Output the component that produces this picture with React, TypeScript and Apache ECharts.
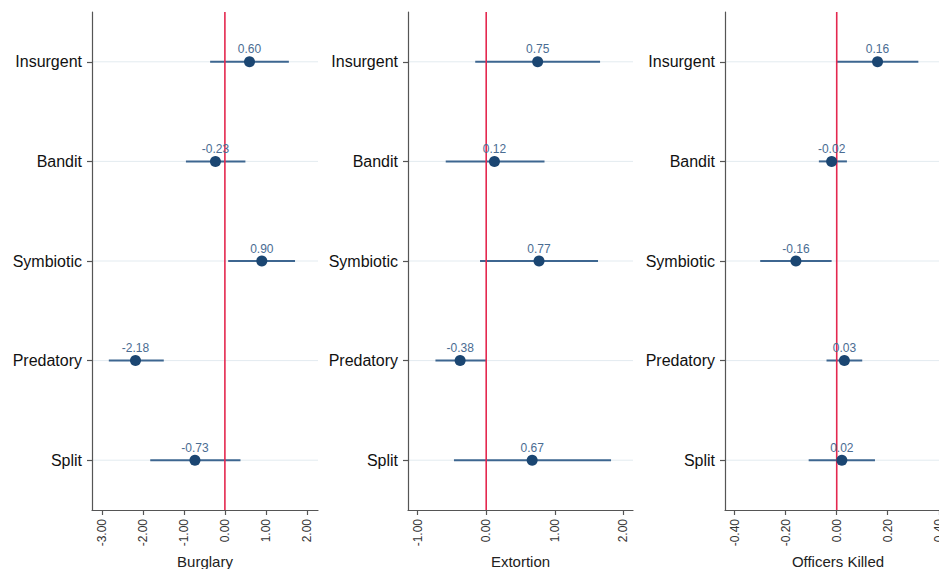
import React, { useEffect, useRef } from 'react';
import * as echarts from 'echarts';

const categories = ['Insurgent', 'Bandit', 'Symbiotic', 'Predatory', 'Split'];

const burglaryEst = [0.6, -0.23, 0.9, -2.18, -0.73];
const burglaryLo = [-0.36, -0.95, 0.08, -2.83, -1.82];
const burglaryHi = [1.56, 0.5, 1.71, -1.49, 0.38];

const extortionEst = [0.75, 0.12, 0.77, -0.38, 0.67];
const extortionLo = [-0.16, -0.59, -0.09, -0.74, -0.47];
const extortionHi = [1.66, 0.85, 1.63, 0.0, 1.82];

const officersEst = [0.16, -0.02, -0.16, 0.03, 0.02];
const officersLo = [0.0, -0.07, -0.3, -0.04, -0.11];
const officersHi = [0.32, 0.04, -0.02, 0.1, 0.15];

const burglaryTicks = [-3, -2, -1, 0, 1, 2];
const extortionTicks = [-1, 0, 1, 2];
const officersTicks = [-0.4, -0.2, 0, 0.2, 0.4];

const panelNames = ['Burglary', 'Extortion', 'Officers Killed'];
const referenceValue = 0;

const panels = [
  { est: burglaryEst, lo: burglaryLo, hi: burglaryHi, ticks: burglaryTicks, min: -3.24, max: 2.27, left: 92, width: 226 },
  { est: extortionEst, lo: extortionLo, hi: extortionHi, ticks: extortionTicks, min: -1.14, max: 2.14, left: 408, width: 225 },
  { est: officersEst, lo: officersLo, hi: officersHi, ticks: officersTicks, min: -0.438, max: 0.448, left: 725, width: 226 },
];

const FONT = 'Liberation Sans, Arial, Helvetica, sans-serif';

export default function App() {
  const ref = useRef<HTMLDivElement>(null);
  useEffect(() => {
    if (!ref.current) return;
    const chart = echarts.init(ref.current, undefined, { renderer: 'svg' });
    const grid: any[] = [];
    const xAxis: any[] = [];
    const yAxis: any[] = [];
    const series: any[] = [];
    panels.forEach((p, i) => {
      grid.push({ left: p.left, top: 12, width: p.width, height: 498, containLabel: false, outerBoundsMode: 'none' });
      xAxis.push({
        type: 'value',
        gridIndex: i,
        min: p.min,
        max: p.max,
        name: panelNames[i],
        nameLocation: 'middle',
        nameGap: 41,
        nameTextStyle: { fontFamily: FONT, fontSize: 15, color: '#222' },
        axisLine: { show: true, onZero: false, lineStyle: { color: '#555', width: 1.2 } },
        axisTick: { show: true, length: 5, customValues: p.ticks, lineStyle: { color: '#555', width: 1.2 } },
        axisLabel: {
          rotate: 90,
          margin: 9,
          customValues: p.ticks,
          formatter: (v: number) => v.toFixed(2),
          fontFamily: FONT,
          fontSize: 12,
          color: '#333',
        },
        splitLine: { show: false },
      });
      yAxis.push({
        type: 'category',
        gridIndex: i,
        data: categories,
        inverse: true,
        boundaryGap: true,
        axisLine: { show: true, onZero: false, lineStyle: { color: '#555', width: 1.2 } },
        axisTick: { show: true, length: 5, alignWithLabel: true, lineStyle: { color: '#555', width: 1.2 } },
        axisLabel: { margin: 10, fontFamily: FONT, fontSize: 16, color: '#111' },
        splitLine: { show: false },
      });
      // light horizontal grid lines at each category
      series.push({
        type: 'custom',
        xAxisIndex: i,
        yAxisIndex: i,
        z: 0,
        silent: true,
        data: categories.map((c, k) => [referenceValue, k]),
        encode: { x: 0, y: 1 },
        renderItem: (params: any, api: any) => {
          const cs = params.coordSys;
          const a = api.coord([api.value(0), api.value(1)]);
          return {
            type: 'line',
            shape: { x1: cs.x, y1: a[1], x2: cs.x + cs.width, y2: a[1] },
            style: { stroke: '#e3ebf0', lineWidth: 1 },
          };
        },
      });
      // confidence intervals
      series.push({
        type: 'custom',
        xAxisIndex: i,
        yAxisIndex: i,
        z: 1,
        silent: true,
        data: categories.map((c, k) => [p.lo[k], p.hi[k], k]),
        encode: { x: [0, 1], y: 2 },
        renderItem: (params: any, api: any) => {
          const a = api.coord([api.value(0), api.value(2)]);
          const b = api.coord([api.value(1), api.value(2)]);
          return {
            type: 'line',
            shape: { x1: a[0], y1: a[1], x2: b[0], y2: b[1] },
            style: { stroke: '#3d6690', lineWidth: 2 },
          };
        },
      });
      // red reference line at zero
      series.push({
        type: 'custom',
        xAxisIndex: i,
        yAxisIndex: i,
        z: 2,
        silent: true,
        data: [[referenceValue, 0]],
        encode: { x: 0, y: 1 },
        renderItem: (params: any, api: any) => {
          const cs = params.coordSys;
          const a = api.coord([api.value(0), api.value(1)]);
          return {
            type: 'line',
            shape: { x1: a[0], y1: cs.y, x2: a[0], y2: cs.y + cs.height },
            style: { stroke: '#e4284f', lineWidth: 1.6 },
          };
        },
      });
      series.push({
        type: 'scatter',
        xAxisIndex: i,
        yAxisIndex: i,
        z: 3,
        symbolSize: 11,
        itemStyle: { color: '#1b4672', opacity: 1 },
        data: categories.map((c, k) => [p.est[k], c]),
        label: {
          show: true,
          position: 'top',
          distance: 1,
          formatter: (d: any) => (d.value[0] as number).toFixed(2),
          fontFamily: FONT,
          fontSize: 12,
          color: '#4a6c92',
        },
      });
    });
    chart.setOption({
      animation: false,
      backgroundColor: '#ffffff',
      grid,
      xAxis,
      yAxis,
      series,
    });
    return () => chart.dispose();
  }, []);
  return <div ref={ref} style={{ position: 'absolute', left: 0, top: 0, width: 939, height: 569 }} />;
}
